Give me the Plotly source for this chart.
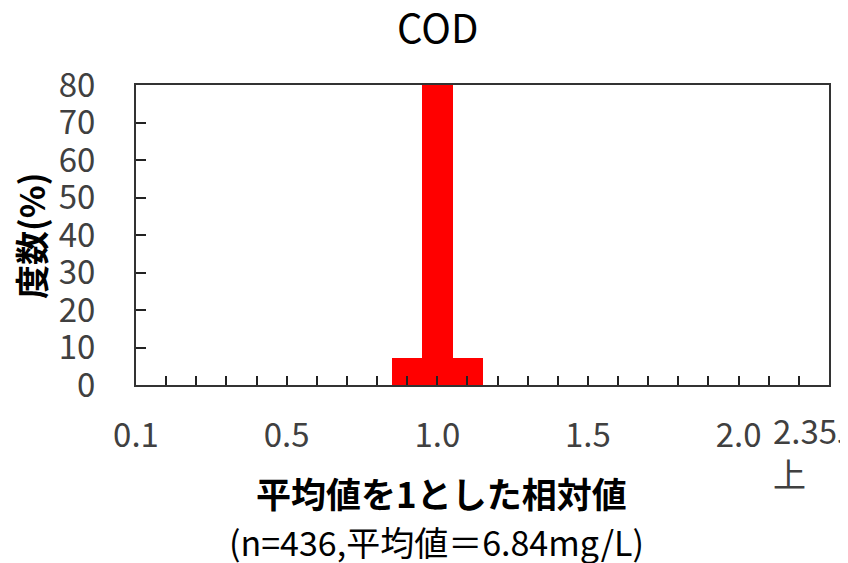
import plotly.graph_objects as go

# data
bin_centers = [0.9, 1.0, 1.1]
freq_pct = [7.3, 85.3, 7.3]
x_tick_vals = [0.0, 0.5, 1.0, 1.5, 2.0]
x_tick_text = ["0.1", "0.5", "1.0", "1.5", "2.0"]
last_label = "2.35以<br>上"
title_text = "COD"
y_title = "度数(%)"
x_title1 = "平均値を1とした相対値"
x_title2 = "(n=436,平均値＝6.84mg/L)"

FONT = "Noto Sans CJK JP"
OFF = 8  # page body margin
W, H = 848 - OFF, 563 - OFF
L, R, T, B = 136 - OFF, 829 - OFF, 85 - OFF, 385 - OFF
pw, ph = R - L, B - T


def px(x):
    return (x - OFF - L) / pw


def py(y):
    return (B - (y - OFF)) / ph


fig = go.Figure()
fig.add_trace(go.Bar(x=bin_centers, y=freq_pct, width=0.1025,
                     marker=dict(color="#FF0000", line=dict(width=0))))

fig.update_layout(
    width=W, height=H,
    margin=dict(l=L, r=W - R, t=T, b=H - B),
    paper_bgcolor="white", plot_bgcolor="white",
    showlegend=False, bargap=0,
    font=dict(family=FONT, color="#404040"),
)
fig.update_xaxes(range=[0, 2.3], tickmode="array", tickvals=x_tick_vals, ticktext=x_tick_text,
                 ticks="inside", ticklen=9, tickwidth=2, tickcolor="#222",
                 minor=dict(dtick=0.1, tick0=0, ticks="inside", ticklen=9, tickwidth=2, tickcolor="#222"),
                 showline=True, linecolor="#333", linewidth=2, mirror=True,
                 showgrid=False, zeroline=False,
                 tickfont=dict(family=FONT, size=33, color="#404040"),
                 ticklabelstandoff=20, fixedrange=True)
fig.update_yaxes(range=[0, 80], dtick=10, ticks="inside", ticklen=10, tickwidth=2, tickcolor="#222",
                 showline=True, linecolor="#333", linewidth=2, mirror=True,
                 showgrid=False, zeroline=False,
                 tickfont=dict(family=FONT, size=33, color="#404040"),
                 ticklabelstandoff=32, fixedrange=True)

ann = [
    dict(text=title_text, x=px(437), y=py(26), font=dict(size=40, color="#000")),
    dict(text=y_title, x=px(30), y=py(236), textangle=-90,
         font=dict(size=34, color="#000", weight="bold")),
    dict(text=x_title1, x=px(441), y=py(493), font=dict(size=35, color="#000", weight="bold")),
    dict(text=x_title2, x=px(436.5), y=py(541), font=dict(size=34, color="#000")),
    dict(text=last_label, x=px(771), y=py(451), xanchor="left", align="left",
         font=dict(size=33, color="#404040")),
]
for a in ann:
    a.setdefault("xanchor", "center")
    fig.add_annotation(xref="paper", yref="paper", showarrow=False, yanchor="middle", **a)

fig.write_html("out.html")
